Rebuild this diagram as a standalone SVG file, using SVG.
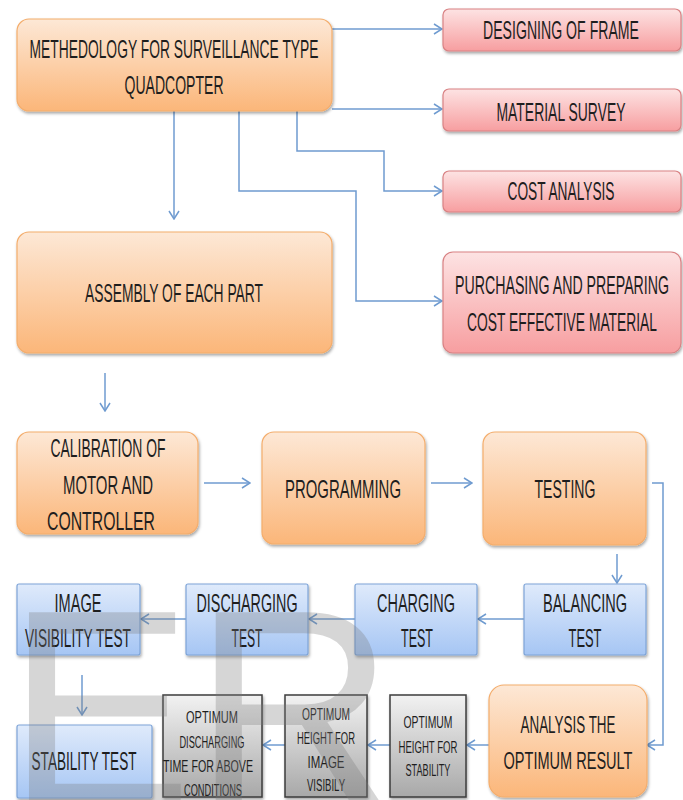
<svg xmlns="http://www.w3.org/2000/svg" width="683" height="800" viewBox="0 0 683 800">
<defs>
<linearGradient id="gOr" x1="0" y1="0" x2="0" y2="1"><stop offset="0" stop-color="#fde8d6"/><stop offset="1" stop-color="#fbb679"/></linearGradient>
<linearGradient id="gRd" x1="0" y1="0" x2="0" y2="1"><stop offset="0" stop-color="#fde3e3"/><stop offset="1" stop-color="#f79ea0"/></linearGradient>
<linearGradient id="gBl" x1="0" y1="0" x2="0" y2="1"><stop offset="0" stop-color="#dfeafb"/><stop offset="1" stop-color="#a6c6f4"/></linearGradient>
<linearGradient id="gGr" x1="0" y1="0" x2="0" y2="1"><stop offset="0" stop-color="#f2f2f2"/><stop offset="1" stop-color="#a8a8a8"/></linearGradient>
<filter id="sh" x="-10%" y="-10%" width="125%" height="130%"><feDropShadow dx="1" dy="2" stdDeviation="1.5" flood-color="#000" flood-opacity="0.35"/></filter>
<marker id="ah" viewBox="0 0 10 12" refX="9" refY="6" markerWidth="10" markerHeight="12" markerUnits="userSpaceOnUse" orient="auto"><path d="M1,1 L9,6 L1,11" fill="none" stroke="#6f9bd0" stroke-width="1.5"/></marker>
<style>
.or{fill:url(#gOr);stroke:#f4ad6c;stroke-width:1.2;filter:url(#sh)}
.rd{fill:url(#gRd);stroke:#d98284;stroke-width:1.2;filter:url(#sh)}
.bl{fill:url(#gBl);stroke:#7ea4d8;stroke-width:1.2;filter:url(#sh)}
.gr{fill:url(#gGr);stroke:#3c3c3c;stroke-width:1.5;filter:url(#sh)}
text{font-family:"Liberation Sans",Arial,sans-serif;fill:#1e1e1e;text-anchor:middle}
.t{font-size:19.5px}
.a{font-size:18.5px}
.s{font-size:13px}
.c{fill:none;stroke:#6f9bd0;stroke-width:1.5;marker-end:url(#ah)}
</style>
</defs>

<g id="connectors">
<path class="c" d="M332,29 H442"/>
<path class="c" d="M332,109 H442"/>
<path class="c" d="M297,111 V151 H384 V191 H442"/>
<path class="c" d="M239,111 V191 H356 V301 H442"/>
<path class="c" d="M174,111 V219"/>
<path class="c" d="M105,373 V411"/>
<path class="c" d="M204,483 H250"/>
<path class="c" d="M431,483 H472"/>
<path class="c" d="M652,483 H663 V745 H647"/>
<path class="c" d="M617,554 V583"/>
<path class="c" d="M524,619 H478"/>
<path class="c" d="M355,619 H309"/>
<path class="c" d="M186,619 H141"/>
<path class="c" d="M82,675 V715"/>
<path class="c" d="M489,745 H467"/>
<path class="c" d="M390,745 H368"/>
<path class="c" d="M285,745 H263"/>
</g>

<g id="methodology">
<rect class="or" x="17" y="19" width="315" height="92" rx="12"/>
<g transform="scale(0.72,1.3)">
<text class="t" x="241.7" y="44.6" textLength="401.4" lengthAdjust="spacingAndGlyphs">METHEDOLOGY FOR SURVEILLANCE TYPE</text>
<text class="t" x="241.7" y="72.3" textLength="137.5" lengthAdjust="spacingAndGlyphs">QUADCOPTER</text>
</g>
</g>

<g id="designing">
<rect class="rd" x="443" y="9" width="238" height="42" rx="6"/>
<g transform="scale(0.72,1.3)"><text class="t" x="779.2" y="30" textLength="216.7" lengthAdjust="spacingAndGlyphs">DESIGNING OF FRAME</text></g>
</g>
<g id="material">
<rect class="rd" x="443" y="89" width="238" height="42" rx="6"/>
<g transform="scale(0.72,1.3)"><text class="t" x="779.2" y="93.1" textLength="179.2" lengthAdjust="spacingAndGlyphs">MATERIAL SURVEY</text></g>
</g>
<g id="cost">
<rect class="rd" x="443" y="171" width="238" height="41" rx="6"/>
<g transform="scale(0.72,1.3)"><text class="t" x="779.2" y="153.8" textLength="148.6" lengthAdjust="spacingAndGlyphs">COST ANALYSIS</text></g>
</g>
<g id="purchasing">
<rect class="rd" x="443" y="252" width="238" height="101" rx="10"/>
<g transform="scale(0.72,1.3)">
<text class="t" x="780.6" y="226.2" textLength="297.2" lengthAdjust="spacingAndGlyphs">PURCHASING AND PREPARING</text>
<text class="t" x="780.6" y="254.6" textLength="263.9" lengthAdjust="spacingAndGlyphs">COST EFFECTIVE MATERIAL</text>
</g>
</g>

<g id="assembly">
<rect class="or" x="17" y="232" width="315" height="121" rx="12"/>
<g transform="scale(0.72,1.3)"><text class="t" x="241.7" y="232.3" textLength="247.2" lengthAdjust="spacingAndGlyphs">ASSEMBLY OF EACH PART</text></g>
</g>

<g id="calibration">
<rect class="or" x="17" y="432" width="181" height="102" rx="12"/>
<g transform="scale(0.72,1.3)">
<text class="t" x="150" y="351.5" textLength="159.7" lengthAdjust="spacingAndGlyphs">CALIBRATION OF</text>
<text class="t" x="150" y="380" textLength="125" lengthAdjust="spacingAndGlyphs">MOTOR AND</text>
<text class="t" x="140.3" y="407.7" textLength="150" lengthAdjust="spacingAndGlyphs">CONTROLLER</text>
</g>
</g>
<g id="programming">
<rect class="or" x="262" y="432" width="163" height="112" rx="12"/>
<g transform="scale(0.72,1.3)"><text class="t" x="476.4" y="383.1" textLength="161.1" lengthAdjust="spacingAndGlyphs">PROGRAMMING</text></g>
</g>
<g id="testing">
<rect class="or" x="483" y="432" width="163" height="113" rx="12"/>
<g transform="scale(0.72,1.3)"><text class="t" x="784.7" y="383.1" textLength="84.7" lengthAdjust="spacingAndGlyphs">TESTING</text></g>
</g>

<g id="balancing">
<rect class="bl" x="524" y="584" width="122" height="71" rx="2"/>
<g transform="scale(0.72,1.3)">
<text class="t" x="812.5" y="470.8" textLength="116.7" lengthAdjust="spacingAndGlyphs">BALANCING</text>
<text class="t" x="812.5" y="497.7" textLength="45.8" lengthAdjust="spacingAndGlyphs">TEST</text>
</g>
</g>
<g id="charging">
<rect class="bl" x="355" y="584" width="122" height="71" rx="2"/>
<g transform="scale(0.72,1.3)">
<text class="t" x="577.8" y="470.8" textLength="108.3" lengthAdjust="spacingAndGlyphs">CHARGING</text>
<text class="t" x="579.2" y="497.7" textLength="44.4" lengthAdjust="spacingAndGlyphs">TEST</text>
</g>
</g>
<g id="discharging">
<rect class="bl" x="186" y="584" width="122" height="71" rx="2"/>
<g transform="scale(0.72,1.3)">
<text class="t" x="343.1" y="470.8" textLength="140.3" lengthAdjust="spacingAndGlyphs">DISCHARGING</text>
<text class="t" x="343.1" y="497.7" textLength="43.1" lengthAdjust="spacingAndGlyphs">TEST</text>
</g>
</g>
<g id="image-visibility">
<rect class="bl" x="17" y="584" width="123" height="71" rx="2"/>
<g transform="scale(0.72,1.3)">
<text class="t" x="108.3" y="470.8" textLength="65.3" lengthAdjust="spacingAndGlyphs">IMAGE</text>
<text class="t" x="108.3" y="497.7" textLength="147.2" lengthAdjust="spacingAndGlyphs">VISIBILITY TEST</text>
</g>
</g>
<g id="stability">
<rect class="bl" x="17" y="725" width="135" height="73" rx="2"/>
<g transform="scale(0.72,1.3)"><text class="t" x="116.7" y="592.3" textLength="145.8" lengthAdjust="spacingAndGlyphs">STABILITY TEST</text></g>
</g>

<g id="analysis">
<rect class="or" x="489" y="685" width="158" height="112" rx="15"/>
<g transform="scale(0.72,1.3)">
<text class="a" x="788.9" y="563.8" textLength="131.9" lengthAdjust="spacingAndGlyphs">ANALYSIS THE</text>
<text class="a" x="788.9" y="591.5" textLength="179.2" lengthAdjust="spacingAndGlyphs">OPTIMUM RESULT</text>
</g>
</g>
<g id="opt-stability">
<rect class="gr" x="390" y="695" width="76" height="102"/>
<g transform="scale(0.72,1.3)">
<text class="s" x="594.4" y="560" textLength="68.1" lengthAdjust="spacingAndGlyphs">OPTIMUM</text>
<text class="s" x="594.4" y="579.2" textLength="81.9" lengthAdjust="spacingAndGlyphs">HEIGHT FOR</text>
<text class="s" x="594.4" y="596.9" textLength="62.5" lengthAdjust="spacingAndGlyphs">STABILITY</text>
</g>
</g>
<g id="opt-image">
<rect class="gr" x="285" y="695" width="82" height="102"/>
<g transform="scale(0.72,1.3)">
<text class="s" x="452.8" y="553.8" textLength="66.7" lengthAdjust="spacingAndGlyphs">OPTIMUM</text>
<text class="s" x="452.8" y="572.3" textLength="80.6" lengthAdjust="spacingAndGlyphs">HEIGHT FOR</text>
<text class="s" x="452.8" y="590.8" textLength="51.4" lengthAdjust="spacingAndGlyphs">IMAGE</text>
<text class="s" x="452.8" y="608.5" textLength="52.8" lengthAdjust="spacingAndGlyphs">VISIBILY</text>
</g>
</g>
<g id="opt-discharging">
<rect class="gr" x="163" y="695" width="99" height="102"/>
<g transform="scale(0.72,1.3)">
<text class="s" x="294.4" y="556.2" textLength="72.2" lengthAdjust="spacingAndGlyphs">OPTIMUM</text>
<text class="s" x="294.4" y="575.4" textLength="90.3" lengthAdjust="spacingAndGlyphs">DISCHARGING</text>
<text class="s" x="288.9" y="593.8" textLength="125" lengthAdjust="spacingAndGlyphs">TIME FOR ABOVE</text>
<text class="s" x="295.8" y="612.3" textLength="80.6" lengthAdjust="spacingAndGlyphs">CONDITIONS</text>
</g>
</g>

<g id="watermark" opacity="0.3">
<text x="6" y="805" style="font-size:280px;fill:#7a7a7a;text-anchor:start">ER</text>
</g>
</svg>
